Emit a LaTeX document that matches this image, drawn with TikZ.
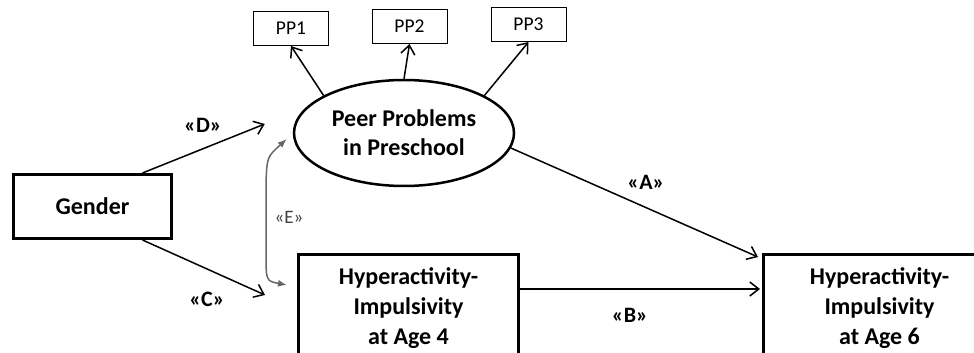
\documentclass[tikz,border=0pt]{standalone}
\usepackage{fontspec}
\setmainfont{Carlito}
\usetikzlibrary{arrows.meta,shapes.geometric}

\tikzset{
  bigbox/.style={draw, line width=3pt, align=center, font=\fontsize{24}{30}\selectfont\bfseries},
  ppbox/.style={draw, line width=1pt, minimum width=75pt, minimum height=34pt, font=\fontsize{19.5}{22}\selectfont},
  effect/.style={line width=1.5pt, -{Straight Barb[length=9pt,width=14pt]}},
  corr/.style={line width=1.5pt, draw=black!60, {Latex[length=9pt,width=7pt]}-{Latex[length=9pt,width=7pt]}},
  coef/.style={font=\fontsize{22}{26}\selectfont\bfseries}
}

\begin{document}
\begin{tikzpicture}[x=1pt,y=1pt]
\useasboundingbox (0,0) rectangle (974,353);
\clip (0,0) rectangle (974,353);

\draw (92.5,146.5) node (gen) [bigbox, minimum width=158pt, minimum height=64pt] {Gender};
\draw (404,220) node (pp) [ellipse, draw, line width=2.5pt, minimum width=220pt, minimum height=106pt,
  align=center, font=\fontsize{24}{29}\selectfont\bfseries] {Peer Problems\\in Preschool};

\draw (291,324.5) node (pp1) [ppbox] {PP1};
\draw (409.5,326.5) node (pp2) [ppbox] {PP2};
\draw (528.5,328.5) node (pp3) [ppbox] {PP3};
\draw[effect] (pp.155) -- (pp1.south);
\draw[effect] (pp.north) -- (pp2.south);
\draw[effect] (pp.25) -- (pp3.south);

\draw (408.5,100) node (hi4) [bigbox, anchor=north, minimum width=220pt, minimum height=108pt]
  {Hyperactivity-\\Impulsivity\\at Age 4};
\draw (762,100) node (hi6) [bigbox, anchor=north west, minimum width=232pt, minimum height=108pt]
  {Hyperactivity-\\Impulsivity\\at Age 6};

% paths with their labels
\draw[effect] ([xshift=50pt]gen.north) -- ([xshift=-28pt,yshift=9pt]pp.west);
\draw (203,228) node (labd) [coef] {«D»};
\draw[effect] ([xshift=50pt]gen.south) -- ([xshift=-32pt,yshift=-42pt]hi4.north west);
\draw (207,54) node (labc) [coef] {«C»};
\draw[effect] (pp.-8) -- ([xshift=-4pt,yshift=-4pt]hi6.north west);
\draw (646,171) node (laba) [coef] {«A»};
\draw[effect] ([yshift=-36pt]hi4.north east) -- ([xshift=-2pt,yshift=-36pt]hi6.north west);
\draw (630,38) node (labb) [coef] {«B»};

% correlation
\coordinate (etop) at ([xshift=-6pt,yshift=-6pt]pp.west);
\coordinate (ebot) at ([xshift=-10pt,yshift=-32pt]hi4.north west);
\draw[corr] (etop) .. controls (267,196) .. (266,170) -- (266,100) .. controls (266,72) .. (ebot);
\draw (289,136) node (labe) [font=\fontsize{19}{22}\selectfont, text=black!75] {«E»};
\end{tikzpicture}
\end{document}
